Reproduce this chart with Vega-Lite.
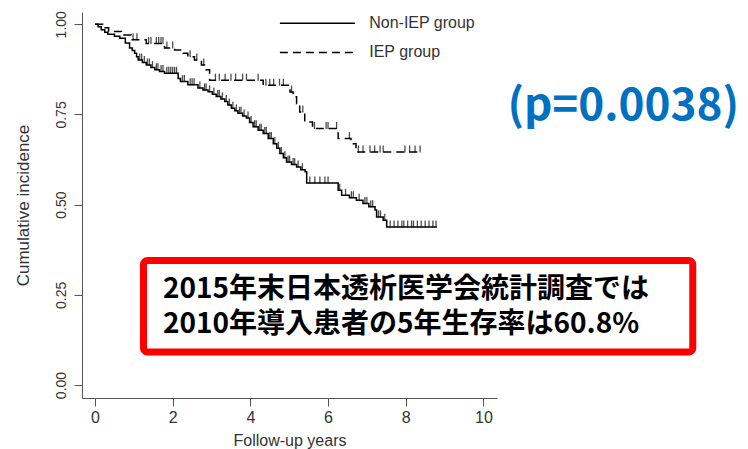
{
  "$schema": "https://vega.github.io/schema/vega-lite/v6.json",
  "width": 415,
  "height": 386,
  "autosize": {"type": "none"},
  "padding": {"left": 82, "top": 12, "right": 251, "bottom": 51},
  "background": "white",
  "config": {"view": {"stroke": null}, "font": "Liberation Sans"},
  "datasets": {
    "curves": [
      {"group":"Non-IEP group","t":0,"S":1},{"group":"Non-IEP group","t":0.08,"S":0.993},{"group":"Non-IEP group","t":0.16,"S":0.985},{"group":"Non-IEP group","t":0.25,"S":0.978},{"group":"Non-IEP group","t":0.33,"S":0.972},{"group":"Non-IEP group","t":0.5,"S":0.967},{"group":"Non-IEP group","t":0.64,"S":0.961},{"group":"Non-IEP group","t":0.78,"S":0.948},{"group":"Non-IEP group","t":0.89,"S":0.934},{"group":"Non-IEP group","t":0.96,"S":0.927},{"group":"Non-IEP group","t":1.02,"S":0.92},{"group":"Non-IEP group","t":1.07,"S":0.91},{"group":"Non-IEP group","t":1.11,"S":0.901},{"group":"Non-IEP group","t":1.22,"S":0.894},{"group":"Non-IEP group","t":1.32,"S":0.887},{"group":"Non-IEP group","t":1.44,"S":0.88},{"group":"Non-IEP group","t":1.54,"S":0.874},{"group":"Non-IEP group","t":1.66,"S":0.869},{"group":"Non-IEP group","t":1.79,"S":0.864},{"group":"Non-IEP group","t":2.14,"S":0.85},{"group":"Non-IEP group","t":2.2,"S":0.841},{"group":"Non-IEP group","t":2.39,"S":0.832},{"group":"Non-IEP group","t":2.65,"S":0.823},{"group":"Non-IEP group","t":2.78,"S":0.818},{"group":"Non-IEP group","t":2.91,"S":0.813},{"group":"Non-IEP group","t":3.02,"S":0.806},{"group":"Non-IEP group","t":3.12,"S":0.8},{"group":"Non-IEP group","t":3.24,"S":0.793},{"group":"Non-IEP group","t":3.34,"S":0.786},{"group":"Non-IEP group","t":3.42,"S":0.776},{"group":"Non-IEP group","t":3.51,"S":0.767},{"group":"Non-IEP group","t":3.6,"S":0.76},{"group":"Non-IEP group","t":3.68,"S":0.753},{"group":"Non-IEP group","t":3.8,"S":0.746},{"group":"Non-IEP group","t":3.9,"S":0.74},{"group":"Non-IEP group","t":3.98,"S":0.728},{"group":"Non-IEP group","t":4.07,"S":0.716},{"group":"Non-IEP group","t":4.2,"S":0.706},{"group":"Non-IEP group","t":4.33,"S":0.697},{"group":"Non-IEP group","t":4.46,"S":0.683},{"group":"Non-IEP group","t":4.59,"S":0.669},{"group":"Non-IEP group","t":4.68,"S":0.656},{"group":"Non-IEP group","t":4.76,"S":0.642},{"group":"Non-IEP group","t":4.85,"S":0.63},{"group":"Non-IEP group","t":4.93,"S":0.618},{"group":"Non-IEP group","t":5.06,"S":0.611},{"group":"Non-IEP group","t":5.19,"S":0.604},{"group":"Non-IEP group","t":5.3,"S":0.597},{"group":"Non-IEP group","t":5.41,"S":0.591},{"group":"Non-IEP group","t":5.45,"S":0.56},{"group":"Non-IEP group","t":6.26,"S":0.54},{"group":"Non-IEP group","t":6.35,"S":0.526},{"group":"Non-IEP group","t":6.55,"S":0.519},{"group":"Non-IEP group","t":6.73,"S":0.512},{"group":"Non-IEP group","t":6.9,"S":0.503},{"group":"Non-IEP group","t":7.05,"S":0.494},{"group":"Non-IEP group","t":7.21,"S":0.485},{"group":"Non-IEP group","t":7.25,"S":0.466},{"group":"Non-IEP group","t":7.42,"S":0.457},{"group":"Non-IEP group","t":7.51,"S":0.438},{"group":"Non-IEP group","t":8.8,"S":0.438},
      {"group":"IEP group","t":0,"S":1},{"group":"IEP group","t":0.2,"S":0.99},{"group":"IEP group","t":0.35,"S":0.98},{"group":"IEP group","t":0.68,"S":0.97},{"group":"IEP group","t":0.93,"S":0.957},{"group":"IEP group","t":1.32,"S":0.947},{"group":"IEP group","t":1.79,"S":0.934},{"group":"IEP group","t":2.05,"S":0.929},{"group":"IEP group","t":2.27,"S":0.92},{"group":"IEP group","t":2.39,"S":0.91},{"group":"IEP group","t":2.56,"S":0.901},{"group":"IEP group","t":2.74,"S":0.887},{"group":"IEP group","t":2.86,"S":0.874},{"group":"IEP group","t":2.95,"S":0.845},{"group":"IEP group","t":4.33,"S":0.831},{"group":"IEP group","t":5.02,"S":0.812},{"group":"IEP group","t":5.1,"S":0.799},{"group":"IEP group","t":5.19,"S":0.78},{"group":"IEP group","t":5.27,"S":0.757},{"group":"IEP group","t":5.4,"S":0.729},{"group":"IEP group","t":5.6,"S":0.711},{"group":"IEP group","t":6.26,"S":0.683},{"group":"IEP group","t":6.59,"S":0.669},{"group":"IEP group","t":6.72,"S":0.646},{"group":"IEP group","t":8.42,"S":0.646}
    ],
    "censor": [
      {"t":1.15,"S":0.901},{"t":1.2,"S":0.901},{"t":1.27,"S":0.894},{"t":1.35,"S":0.887},{"t":1.4,"S":0.887},{"t":1.48,"S":0.88},{"t":1.58,"S":0.874},{"t":1.62,"S":0.874},{"t":1.7,"S":0.869},{"t":1.75,"S":0.869},{"t":1.85,"S":0.864},{"t":1.9,"S":0.864},{"t":1.95,"S":0.864},{"t":2.0,"S":0.864},{"t":2.05,"S":0.864},{"t":2.1,"S":0.864},{"t":2.25,"S":0.841},{"t":2.3,"S":0.841},{"t":2.45,"S":0.832},{"t":2.5,"S":0.832},{"t":2.55,"S":0.832},{"t":2.7,"S":0.823},{"t":2.82,"S":0.818},{"t":2.86,"S":0.818},{"t":2.95,"S":0.813},{"t":3.06,"S":0.806},{"t":3.16,"S":0.8},{"t":3.2,"S":0.8},{"t":3.28,"S":0.793},{"t":3.38,"S":0.786},{"t":3.46,"S":0.776},{"t":3.55,"S":0.767},{"t":3.64,"S":0.76},{"t":3.72,"S":0.753},{"t":3.76,"S":0.753},{"t":3.84,"S":0.746},{"t":3.94,"S":0.74},{"t":4.02,"S":0.728},{"t":4.11,"S":0.716},{"t":4.15,"S":0.716},{"t":4.24,"S":0.706},{"t":4.28,"S":0.706},{"t":4.37,"S":0.697},{"t":4.41,"S":0.697},{"t":4.5,"S":0.683},{"t":4.54,"S":0.683},{"t":4.63,"S":0.669},{"t":4.72,"S":0.656},{"t":4.8,"S":0.642},{"t":4.89,"S":0.63},{"t":4.97,"S":0.618},{"t":5.01,"S":0.618},{"t":5.1,"S":0.611},{"t":5.14,"S":0.611},{"t":5.23,"S":0.604},{"t":5.34,"S":0.597},{"t":5.53,"S":0.56},{"t":5.66,"S":0.56},{"t":5.79,"S":0.56},{"t":5.92,"S":0.56},{"t":6.0,"S":0.56},{"t":6.3,"S":0.54},{"t":6.45,"S":0.526},{"t":6.6,"S":0.519},{"t":6.65,"S":0.519},{"t":6.8,"S":0.512},{"t":6.95,"S":0.503},{"t":7.0,"S":0.503},{"t":7.1,"S":0.494},{"t":7.15,"S":0.494},{"t":7.3,"S":0.466},{"t":7.35,"S":0.466},{"t":7.46,"S":0.457},{"t":7.6,"S":0.438},{"t":7.7,"S":0.438},{"t":7.8,"S":0.438},{"t":7.9,"S":0.438},{"t":7.95,"S":0.438},{"t":8.05,"S":0.438},{"t":8.15,"S":0.438},{"t":8.2,"S":0.438},{"t":8.3,"S":0.438},{"t":8.4,"S":0.438},{"t":8.5,"S":0.438},{"t":8.6,"S":0.438},{"t":8.7,"S":0.438},{"t":8.78,"S":0.438},
      {"t":0.98,"S":0.957},{"t":1.08,"S":0.957},{"t":1.38,"S":0.947},{"t":1.44,"S":0.947},{"t":1.58,"S":0.947},{"t":1.64,"S":0.947},{"t":1.7,"S":0.947},{"t":1.75,"S":0.947},{"t":1.85,"S":0.934},{"t":2.0,"S":0.934},{"t":2.45,"S":0.91},{"t":2.62,"S":0.901},{"t":2.8,"S":0.887},{"t":3.1,"S":0.845},{"t":3.2,"S":0.845},{"t":3.35,"S":0.845},{"t":3.5,"S":0.845},{"t":3.62,"S":0.845},{"t":3.8,"S":0.845},{"t":3.9,"S":0.845},{"t":4.2,"S":0.845},{"t":4.4,"S":0.831},{"t":4.5,"S":0.831},{"t":4.6,"S":0.831},{"t":4.75,"S":0.831},{"t":4.85,"S":0.831},{"t":5.06,"S":0.812},{"t":5.35,"S":0.757},{"t":5.65,"S":0.711},{"t":5.95,"S":0.711},{"t":6.0,"S":0.711},{"t":6.22,"S":0.711},{"t":6.55,"S":0.683},{"t":6.78,"S":0.646},{"t":6.9,"S":0.646},{"t":7.08,"S":0.646},{"t":7.2,"S":0.646},{"t":7.34,"S":0.646},{"t":7.42,"S":0.646},{"t":7.98,"S":0.646},{"t":8.1,"S":0.646},{"t":8.24,"S":0.646},{"t":8.37,"S":0.646}
    ],
    "legend": [
      {"group":"Non-IEP group","x1":4.76,"x2":6.69,"xt":7.06,"y":1.003},
      {"group":"IEP group","x1":4.76,"x2":6.69,"xt":7.06,"y":0.922}
    ],
    "box": [{"x1":1.248,"x2":15.39,"y1":0.345,"y2":0.0914}],
    "boxtext": [
      {"text":"2015年末日本透析医学会統計調査では","t":1.75,"S":0.262},
      {"text":"2010年導入患者の5年生存率は60.8%","t":1.75,"S":0.166}
    ],
    "ptext": [{"text":"(p=0.0038)","t":13.6,"S":0.772}]
  },
  "layer": [
    {
      "data": {"name": "curves"},
      "mark": {"type": "line", "interpolate": "step-after", "color": "black", "strokeWidth": 1.5},
      "encoding": {
        "x": {"field": "t", "type": "quantitative", "title": "Follow-up years",
              "scale": {"domain": [-0.335, 10.35], "nice": false, "zero": false},
              "axis": {"values": [0,2,4,6,8,10], "grid": false, "tickSize": 8, "labelFontSize": 16, "titleFontSize": 16, "titleFontWeight": "normal", "labelColor": "#333", "titleColor": "#333", "domainColor": "#555", "tickColor": "#555", "labelPadding": 3, "titlePadding": 7, "labelFont": "Liberation Sans", "titleFont": "Liberation Sans"}},
        "y": {"field": "S", "type": "quantitative", "title": "Cumulative incidence",
              "scale": {"domain": [-0.036, 1.034], "nice": false, "zero": false},
              "axis": {"values": [0,0.25,0.5,0.75,1], "format": ".2f", "grid": false, "tickSize": 8, "labelAngle": -90, "labelFontSize": 14, "titleFontSize": 17, "titleFontWeight": "normal", "labelColor": "#333", "titleColor": "#333", "domainColor": "#555", "tickColor": "#555", "labelPadding": 6, "titlePadding": 22, "labelFont": "Liberation Sans", "titleFont": "Liberation Sans"}},
        "strokeDash": {"field": "group", "type": "nominal", "scale": {"domain": ["Non-IEP group", "IEP group"], "range": [[1,0],[8,5]]}, "legend": null}
      }
    },
    {
      "data": {"name": "censor"},
      "mark": {"type": "tick", "orient": "vertical", "color": "black", "size": 7, "thickness": 1.3, "yOffset": -3},
      "encoding": {
        "x": {"field": "t", "type": "quantitative", "title": "Follow-up years"},
        "y": {"field": "S", "type": "quantitative", "title": "Cumulative incidence"}
      }
    },
    {
      "data": {"name": "legend"},
      "mark": {"type": "rule", "color": "black", "strokeWidth": 1.5},
      "encoding": {
        "x": {"field": "x1", "type": "quantitative", "title": "Follow-up years"},
        "x2": {"field": "x2"},
        "y": {"field": "y", "type": "quantitative", "title": "Cumulative incidence"},
        "strokeDash": {"field": "group", "type": "nominal"}
      }
    },
    {
      "data": {"name": "legend"},
      "mark": {"type": "text", "align": "left", "baseline": "middle", "fontSize": 16, "color": "#333", "font": "Liberation Sans"},
      "encoding": {
        "x": {"field": "xt", "type": "quantitative", "title": "Follow-up years"},
        "y": {"field": "y", "type": "quantitative", "title": "Cumulative incidence"},
        "text": {"field": "group"}
      }
    },
    {
      "data": {"name": "box"},
      "mark": {"type": "rect", "fill": "white", "stroke": "#ff0000", "strokeWidth": 7, "cornerRadius": 4},
      "encoding": {
        "x": {"field": "x1", "type": "quantitative", "title": "Follow-up years"},
        "x2": {"field": "x2"},
        "y": {"field": "y1", "type": "quantitative", "title": "Cumulative incidence"},
        "y2": {"field": "y2"}
      }
    },
    {
      "data": {"name": "boxtext"},
      "mark": {"type": "text", "align": "left", "baseline": "middle", "fontSize": 28, "fontWeight": "bold", "color": "black", "font": "Noto Sans CJK JP"},
      "encoding": {
        "x": {"field": "t", "type": "quantitative", "title": "Follow-up years"},
        "y": {"field": "S", "type": "quantitative", "title": "Cumulative incidence"},
        "text": {"field": "text"}
      }
    },
    {
      "data": {"name": "ptext"},
      "mark": {"type": "text", "align": "center", "baseline": "middle", "fontSize": 44, "fontWeight": "bold", "color": "#0070C0", "font": "Noto Sans CJK JP"},
      "encoding": {
        "x": {"field": "t", "type": "quantitative", "title": "Follow-up years"},
        "y": {"field": "S", "type": "quantitative", "title": "Cumulative incidence"},
        "text": {"field": "text"}
      }
    }
  ]
}
